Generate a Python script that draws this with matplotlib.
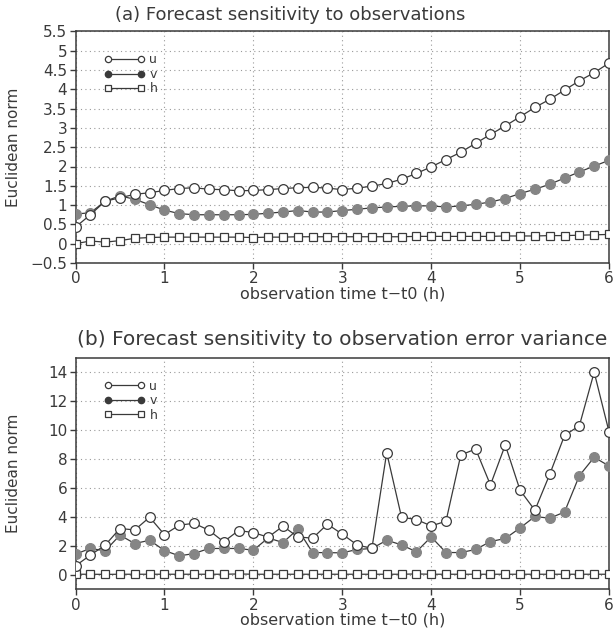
import numpy as np
import matplotlib
matplotlib.use("Agg")
import matplotlib.pyplot as plt
from matplotlib.lines import Line2D

# observation times: every 10 minutes from 0 to 6 h
obs_time = np.arange(37) / 6.0

# (a) forecast sensitivity to observations (Euclidean norm)
sens_obs_u = [0.43, 0.75, 1.10, 1.19, 1.28, 1.32, 1.38, 1.43, 1.45, 1.41,
              1.40, 1.37, 1.38, 1.40, 1.43, 1.45, 1.46, 1.44, 1.40, 1.44,
              1.49, 1.56, 1.67, 1.82, 1.99, 2.18, 2.37, 2.60, 2.83, 3.05,
              3.29, 3.53, 3.74, 3.98, 4.22, 4.43, 4.68]
sens_obs_v = [0.77, 0.80, 1.10, 1.24, 1.15, 1.01, 0.87, 0.78, 0.75, 0.75,
              0.75, 0.75, 0.76, 0.79, 0.82, 0.86, 0.82, 0.82, 0.86, 0.89,
              0.93, 0.95, 0.97, 0.98, 0.98, 0.95, 0.98, 1.02, 1.08, 1.17,
              1.30, 1.41, 1.54, 1.70, 1.86, 2.01, 2.16]
sens_obs_h = [0.00, 0.07, 0.04, 0.08, 0.14, 0.16, 0.17, 0.17, 0.17, 0.17,
              0.17, 0.17, 0.16, 0.17, 0.17, 0.18, 0.18, 0.18, 0.18, 0.18,
              0.18, 0.18, 0.18, 0.19, 0.19, 0.19, 0.19, 0.19, 0.19, 0.20,
              0.20, 0.20, 0.21, 0.21, 0.22, 0.23, 0.24]

# (b) forecast sensitivity to observation error variance (Euclidean norm)
sens_err_u = [0.62, 1.36, 2.05, 3.20, 3.10, 3.98, 2.78, 3.43, 3.56, 3.08,
              2.28, 3.06, 2.92, 2.60, 3.36, 2.62, 2.53, 3.50, 2.81, 2.07,
              1.82, 8.44, 3.98, 3.82, 3.38, 3.70, 8.28, 8.69, 6.21, 8.97,
              5.84, 4.46, 6.94, 9.63, 10.30, 14.00, 9.89]
sens_err_v = [1.43, 1.82, 1.66, 2.74, 2.16, 2.39, 1.68, 1.31, 1.47, 1.82,
              1.82, 1.82, 1.70, 2.55, 2.23, 3.15, 1.54, 1.53, 1.52, 1.75,
              1.82, 2.39, 2.07, 1.59, 2.62, 1.54, 1.54, 1.75, 2.30, 2.51,
              3.24, 4.03, 3.91, 4.34, 6.85, 8.12, 7.52]
sens_err_h = [0.04, 0.04, 0.03, 0.04, 0.04, 0.04, 0.04, 0.04, 0.04, 0.04,
              0.04, 0.06, 0.04, 0.04, 0.04, 0.04, 0.04, 0.04, 0.04, 0.04,
              0.04, 0.04, 0.04, 0.06, 0.04, 0.04, 0.04, 0.04, 0.04, 0.04,
              0.04, 0.04, 0.04, 0.04, 0.04, 0.04, 0.04]

x_ticks = [0, 1, 2, 3, 4, 5, 6]
a_yticks = [-0.5, 0, 0.5, 1, 1.5, 2, 2.5, 3, 3.5, 4, 4.5, 5, 5.5]
a_yticklabels = ["\u22120.5", "0", "0.5", "1", "1.5", "2", "2.5", "3",
                 "3.5", "4", "4.5", "5", "5.5"]
b_yticks = [0, 2, 4, 6, 8, 10, 12, 14]

title_a = "(a) Forecast sensitivity to observations"
title_b = "(b) Forecast sensitivity to observation error variance"
x_label = "observation time t\u2212t0 (h)"
y_label = "Euclidean norm"

INK = "#3a3a3a"
GRAY = "#858585"

plt.rcParams["font.family"] = ["DejaVu Sans"]

fig = plt.figure(figsize=(6.14, 6.33), dpi=100)
W, H = 614.0, 633.0
ax_a = fig.add_axes([75.5 / W, 1 - 263.0 / H, 533.5 / W, 231.6 / H])
ax_b = fig.add_axes([75.5 / W, 1 - 589.3 / H, 533.5 / W, 231.6 / H])


def draw_panel(ax, u, v, h):
    ax.plot(obs_time, u, color=INK, lw=0.9, marker="o", ms=7.0,
            mfc="white", mec=INK, mew=0.9, zorder=4)
    ax.plot(obs_time, v, color=INK, lw=0.9, marker="o", ms=7.0,
            mfc=GRAY, mec=GRAY, mew=0.9, zorder=3)
    ax.plot(obs_time, h, color=INK, lw=0.9, marker="s", ms=6.0,
            mfc="white", mec=INK, mew=0.9, zorder=3)
    ax.set_xlim(0, 6)
    ax.set_xticks(x_ticks)
    ax.grid(True, color="#9a9a9a", lw=0.8, ls=(0, (1, 3)))
    ax.set_axisbelow(True)
    for s in ax.spines.values():
        s.set_color(INK)
        s.set_linewidth(1.1)
    ax.tick_params(direction="out", length=4, width=1.0, color=INK,
                   labelcolor=INK, labelsize=11, pad=2)
    ax.set_xlabel(x_label, fontsize=11.5, color=INK, labelpad=0)

    handles = [
        Line2D([], [], color=INK, lw=0.9, marker="o", ms=4.5, mfc="white",
               mec=INK, mew=0.9),
        Line2D([], [], color=INK, lw=0.9, marker="o", ms=4.5, mfc=INK,
               mec=INK),
        Line2D([], [], color=INK, lw=0.9, marker="s", ms=4.5, mfc="white",
               mec=INK, mew=0.9),
    ]
    leg = ax.legend(handles, ["u", "v", "h"], loc="upper left",
                    bbox_to_anchor=(0.053, 0.905), frameon=False,
                    numpoints=2, handlelength=3.3, handletextpad=0.35,
                    labelspacing=0.12, borderpad=0, borderaxespad=0,
                    fontsize=9)
    for t in leg.get_texts():
        t.set_color(INK)


draw_panel(ax_a, sens_obs_u, sens_obs_v, sens_obs_h)
ax_a.set_ylim(-0.5, 5.5)
ax_a.set_yticks(a_yticks)
ax_a.set_yticklabels(a_yticklabels)
ax_a.text(0.402, 1.0 + 11.0 / 231.6, title_a, transform=ax_a.transAxes,
          ha="center", va="baseline", fontsize=13, color=INK)

draw_panel(ax_b, sens_err_u, sens_err_v, sens_err_h)
ax_b.set_ylim(-1, 15)
ax_b.set_yticks(b_yticks)
ax_b.text(0.5, 1.0 + 13.0 / 231.6, title_b, transform=ax_b.transAxes,
          ha="center", va="baseline", fontsize=14.5, color=INK)

for yc in (147.0, 473.0):
    fig.text(14.0 / W, 1 - yc / H, y_label, rotation=90, ha="center",
             va="center", fontsize=11, color=INK)

fig.savefig("out.png", dpi=100)
